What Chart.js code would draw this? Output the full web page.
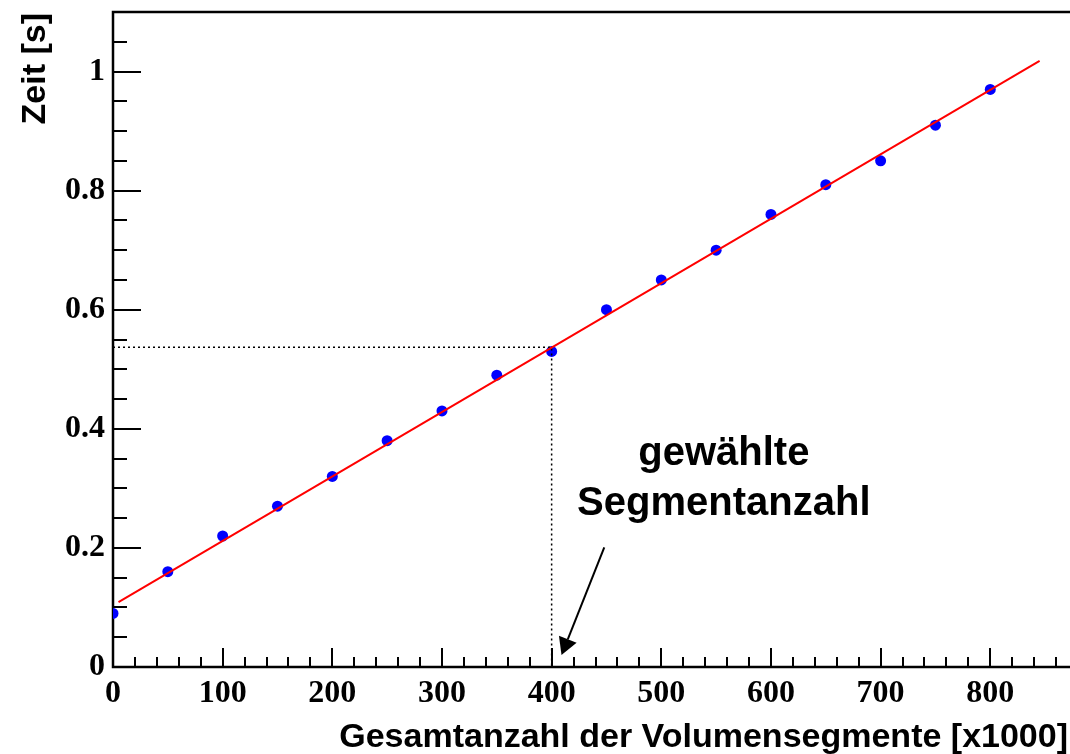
<!DOCTYPE html>
<html>
<head>
<meta charset="utf-8">
<script src="https://cdn.jsdelivr.net/npm/chart.js@4"></script>
<style>
  html, body { margin: 0; padding: 0; background: #fff; }
  #wrap { width: 1070px; height: 754px; overflow: hidden; position: relative; }
  #timeChart { position: absolute; left: 0; top: 0; }
</style>
</head>
<body>
<div id="wrap">
  <canvas id="timeChart" width="1085" height="754"></canvas>
</div>
<script>
// Measured run time against total number of volume segments (x1000)
const segments = [0, 50, 100, 150, 200, 250, 300, 350, 400, 450, 500, 550, 600, 650, 700, 750, 800];
const times = [0.09, 0.16, 0.22, 0.27, 0.32, 0.38, 0.43, 0.49, 0.53, 0.60, 0.65, 0.70, 0.76, 0.81, 0.85, 0.91, 0.97];

// Linear fit, drawn between its two end points
const fitX = [5, 845];
const fitY = [0.109, 1.018];

// Dotted guide to the chosen segment count
const guideX = [0, 400, 400];
const guideY = [0.537, 0.537, 0];

// Arrow and its caption (data units)
const arrowFrom = [448, 0.201];
const arrowTo = [409, 0.02];
const captionLines = ['gewählte', 'Segmentanzahl'];
const captionX = 557;
const captionY = [0.339, 0.255];

const yTickLabels = ['0', '0.2', '0.4', '0.6', '0.8', '1'];
const xTickLabels = ['0', '100', '200', '300', '400', '500', '600', '700', '800'];

const X_MAX = 880;
const Y_MAX = 1.1;

const toPoints = (xs, ys) => xs.map((x, i) => ({ x: x, y: ys[i] }));

const sansBold = "bold 34px 'Liberation Sans', Arial, sans-serif";

// Frame, inward ticks, titles, arrow and caption
const decorations = {
    id: 'decorations',
    beforeDatasetsDraw(chart) {
        const ctx = chart.ctx;
        const area = chart.chartArea;
        const xs = chart.scales.x;
        const ys = chart.scales.y;
        ctx.save();
        ctx.strokeStyle = '#000';

        // ticks on the x axis: minor every 20, major every 100
        ctx.lineWidth = 2;
        for (let v = 0; v <= X_MAX; v += 20) {
            const px = Math.round(xs.getPixelForValue(v));
            const len = v % 100 === 0 ? 19 : 10;
            ctx.beginPath();
            ctx.moveTo(px, area.bottom);
            ctx.lineTo(px, area.bottom - len);
            ctx.stroke();
        }
        // ticks on the y axis: minor every 0.05, major every 0.2
        for (let i = 0; i * 0.05 <= Y_MAX + 1e-9; i++) {
            const py = Math.round(ys.getPixelForValue(i * 0.05));
            const len = i % 4 === 0 ? 28 : 14;
            ctx.beginPath();
            ctx.moveTo(area.left, py);
            ctx.lineTo(area.left + len, py);
            ctx.stroke();
        }

        // frame
        ctx.lineWidth = 2.5;
        ctx.strokeRect(area.left, area.top, area.right - area.left, area.bottom - area.top);
        ctx.restore();
    },
    afterDatasetsDraw(chart) {
        const ctx = chart.ctx;
        const xs = chart.scales.x;
        const ys = chart.scales.y;
        ctx.save();
        ctx.fillStyle = '#000';
        ctx.strokeStyle = '#000';

        // axis titles
        ctx.font = sansBold;
        ctx.textAlign = 'right';
        ctx.textBaseline = 'alphabetic';
        ctx.fillText('Gesamtanzahl der Volumensegmente [x1000]', 1068, 747);

        ctx.save();
        ctx.translate(45, 13);
        ctx.rotate(-Math.PI / 2);
        ctx.fillText('Zeit [s]', 0, 0);
        ctx.restore();

        // caption
        ctx.font = "bold 40px 'Liberation Sans', Arial, sans-serif";
        ctx.textAlign = 'center';
        captionLines.forEach((line, i) => {
            ctx.fillText(line, xs.getPixelForValue(captionX), ys.getPixelForValue(captionY[i]));
        });

        // arrow
        const x0 = xs.getPixelForValue(arrowFrom[0]);
        const y0 = ys.getPixelForValue(arrowFrom[1]);
        const x1 = xs.getPixelForValue(arrowTo[0]);
        const y1 = ys.getPixelForValue(arrowTo[1]);
        const ang = Math.atan2(y1 - y0, x1 - x0);
        const headLen = 17;
        const headHalf = 9.5;
        const bx = x1 - headLen * Math.cos(ang);
        const by = y1 - headLen * Math.sin(ang);
        ctx.lineWidth = 2;
        ctx.beginPath();
        ctx.moveTo(x0, y0);
        ctx.lineTo(bx, by);
        ctx.stroke();
        ctx.beginPath();
        ctx.moveTo(x1, y1);
        ctx.lineTo(bx + headHalf * Math.sin(ang), by - headHalf * Math.cos(ang));
        ctx.lineTo(bx - headHalf * Math.sin(ang), by + headHalf * Math.cos(ang));
        ctx.closePath();
        ctx.fill();
        ctx.restore();
    }
};

const isMultiple = (v, step) => Math.abs(v / step - Math.round(v / step)) < 1e-6;

new Chart(document.getElementById('timeChart').getContext('2d'), {
    type: 'scatter',
    data: {
        datasets: [
            {
                // fit line
                data: toPoints(fitX, fitY),
                showLine: true,
                borderColor: '#ff0000',
                borderWidth: 2,
                pointRadius: 0,
                fill: false
            },
            {
                // guide lines
                data: toPoints(guideX, guideY),
                showLine: true,
                borderColor: '#000',
                borderWidth: 1.5,
                borderDash: [2, 3],
                pointRadius: 0,
                fill: false
            },
            {
                // measurements
                data: toPoints(segments, times),
                showLine: false,
                pointRadius: 5.5,
                pointBorderWidth: 0,
                pointBackgroundColor: '#0000ff',
                pointBorderColor: '#0000ff'
            }
        ]
    },
    options: {
        responsive: false,
        animation: false,
        events: [],
        layout: { padding: { left: 0, top: 12, right: 7, bottom: 0 } },
        plugins: {
            legend: { display: false },
            tooltip: { enabled: false }
        },
        scales: {
            x: {
                type: 'linear',
                min: 0,
                max: X_MAX,
                grid: { display: false, drawTicks: false },
                border: { display: false },
                afterFit: function (scale) {
                    scale.height = 87;
                    scale.paddingLeft = 0;
                    scale.paddingRight = 0;
                },
                ticks: {
                    stepSize: 100,
                    autoSkip: false,
                    maxRotation: 0,
                    padding: 8,
                    color: '#000',
                    font: { family: "'Liberation Serif', 'Times New Roman', serif", weight: 'bold', size: 32 },
                    callback: function (value) {
                        return isMultiple(value, 100) && value <= 800 ? xTickLabels[Math.round(value / 100)] : '';
                    }
                }
            },
            y: {
                type: 'linear',
                min: 0,
                max: Y_MAX,
                grid: { display: false, drawTicks: false },
                border: { display: false },
                afterFit: function (scale) {
                    scale.width = 113;
                    scale.paddingTop = 0;
                    scale.paddingBottom = 0;
                },
                ticks: {
                    stepSize: 0.2,
                    autoSkip: false,
                    padding: 8,
                    color: '#000',
                    font: { family: "'Liberation Serif', 'Times New Roman', serif", weight: 'bold', size: 32 },
                    callback: function (value) {
                        return isMultiple(value, 0.2) && value <= 1.0001 ? yTickLabels[Math.round(value / 0.2)] : '';
                    }
                }
            }
        }
    },
    plugins: [decorations]
});
</script>
</body>
</html>
